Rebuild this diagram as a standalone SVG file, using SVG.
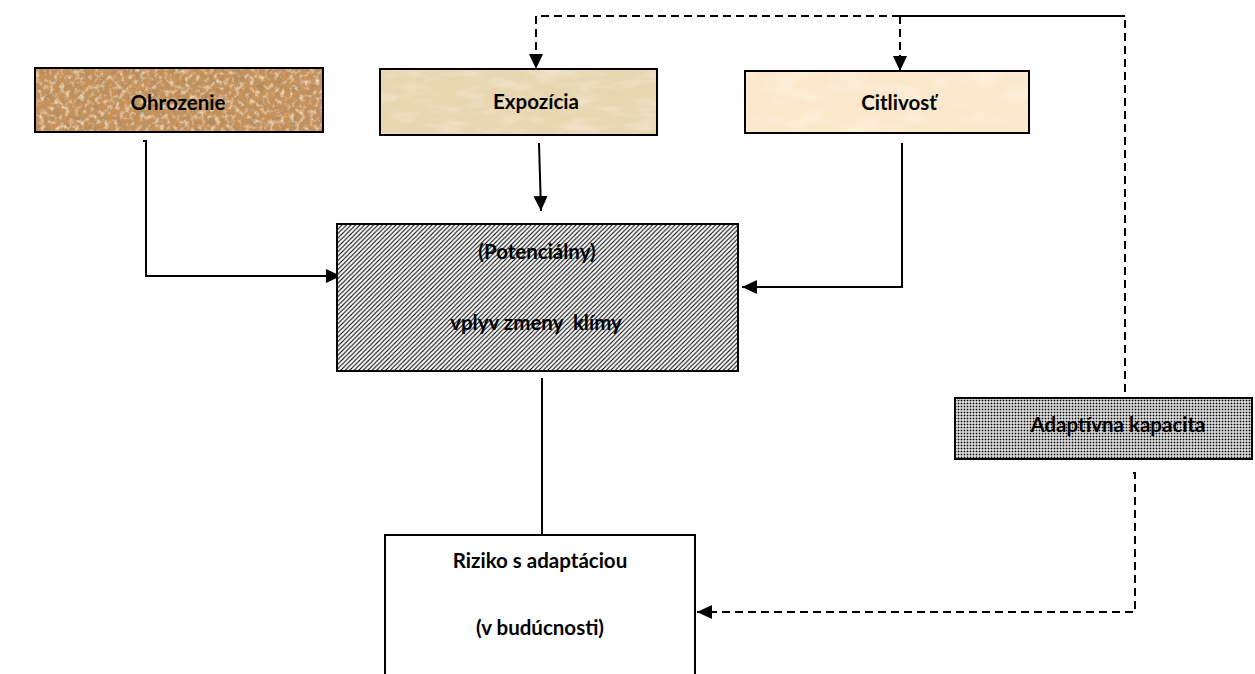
<svg xmlns="http://www.w3.org/2000/svg" width="1255" height="674" viewBox="0 0 1255 674">
  <style>
    .box { stroke: #000; stroke-width: 2; }
    .lbl { font-family: Lato, "Liberation Sans", sans-serif; font-weight: bold; font-size: 20.5px; fill: #000; text-anchor: middle; dominant-baseline: central; white-space: pre; }
    .wire { fill: none; stroke: #000; stroke-width: 2; }
    .dash { stroke-dasharray: 8 5; }
  </style>
  <defs>
    <marker id="arrow" markerUnits="userSpaceOnUse" markerWidth="16" markerHeight="16" viewBox="0 0 16 16" refX="15" refY="8" orient="auto">
      <path d="M0,1 L15,8 L0,15 Z" fill="#000"/>
    </marker>
    <!-- wide upward diagonal hatch -->
    <pattern id="hatch" patternUnits="userSpaceOnUse" width="4.5" height="4.5">
      <rect width="4.5" height="4.5" fill="#fff"/>
      <path d="M-1,1 L1,-1 M0,4.5 L4.5,0 M3.5,5.5 L5.5,3.5" stroke="#000" stroke-width="1.1"/>
    </pattern>
    <!-- dotted grid -->
    <pattern id="dots" patternUnits="userSpaceOnUse" width="3" height="3">
      <rect width="3" height="3" fill="#fff"/>
      <rect x="0.6" y="0.6" width="1.8" height="1.8" fill="#000"/>
    </pattern>
    <!-- sand grain texture -->
    <filter id="sand" x="0" y="0" width="100%" height="100%">
      <feTurbulence type="fractalNoise" baseFrequency="0.12" numOctaves="4" seed="4" result="n"/>
      <feColorMatrix in="n" type="matrix" values="0 0 0 0 0.45  0 0 0 0 0.26  0 0 0 0 0.1  2.6 0 0 0 -1.1" result="dark"/>
      <feTurbulence type="fractalNoise" baseFrequency="0.2" numOctaves="3" seed="9" result="n2"/>
      <feColorMatrix in="n2" type="matrix" values="0 0 0 0 0.9  0 0 0 0 0.77  0 0 0 0 0.6  2.4 0 0 0 -1.15" result="light"/>
      <feMerge><feMergeNode in="dark"/><feMergeNode in="light"/></feMerge>
    </filter>
    <!-- parchment texture -->
    <filter id="parch" x="0" y="0" width="100%" height="100%">
      <feTurbulence type="fractalNoise" baseFrequency="0.03 0.09" numOctaves="3" seed="2" result="n"/>
      <feColorMatrix in="n" type="matrix" values="0 0 0 0 0.97  0 0 0 0 0.93  0 0 0 0 0.84  1.0 0 0 0 -0.45"/>
    </filter>
    <filter id="cream" x="0" y="0" width="100%" height="100%">
      <feTurbulence type="fractalNoise" baseFrequency="0.03 0.06" numOctaves="2" seed="7" result="n"/>
      <feColorMatrix in="n" type="matrix" values="0 0 0 0 1  0 0 0 0 0.97  0 0 0 0 0.92  1.0 0 0 0 -0.45"/>
    </filter>
  </defs>

  <g id="connectors">
    <!-- top feedback line from adaptive capacity -->
    <path class="wire" d="M900,16 L1125,16"/>
    <path class="wire dash" d="M1125,392 L1125,16"/>
    <path class="wire dash" d="M900,16 L536,16 L536,69" marker-end="url(#arrow)"/>
    <path class="wire dash" d="M900,16 L900,71" marker-end="url(#arrow)"/>
    <!-- inputs to potential impact -->
    <path class="wire" d="M143,141 L146,141 L146,276 L341,276" marker-end="url(#arrow)"/>
    <path class="wire" d="M539,143 L541,211" marker-end="url(#arrow)"/>
    <path class="wire" d="M902,143 L902,287 L742,287" marker-end="url(#arrow)"/>
    <!-- impact to risk -->
    <path class="wire" d="M542,378 L542,537"/>
    <!-- adaptive capacity to risk -->
    <path class="wire dash" d="M1133,473 L1135,473 L1135,612 L697,612" marker-end="url(#arrow)"/>
  </g>

  <g id="ohrozenie">
    <rect x="35" y="68" width="288" height="64" fill="#c6925c"/>
    <rect x="35" y="68" width="288" height="64" fill="#000" filter="url(#sand)"/>
    <rect class="box" x="35" y="68" width="288" height="64" fill="none"/>
    <text class="lbl" x="178" y="102">Ohrozenie</text>
  </g>

  <g id="expozicia">
    <rect x="380" y="69" width="277" height="66" fill="#e8d6b0"/>
    <rect x="380" y="69" width="277" height="66" fill="#000" filter="url(#parch)"/>
    <rect class="box" x="380" y="69" width="277" height="66" fill="none"/>
    <text class="lbl" x="536" y="101">Expozícia</text>
  </g>

  <g id="citlivost">
    <rect x="745" y="71" width="284" height="62" fill="#fbe8cb"/>
    <rect x="745" y="71" width="284" height="62" fill="#000" filter="url(#cream)"/>
    <rect class="box" x="745" y="71" width="284" height="62" fill="none"/>
    <text class="lbl" x="899" y="102">Citlivosť</text>
  </g>

  <g id="vplyv">
    <rect class="box" x="337" y="224" width="401" height="147" fill="url(#hatch)"/>
    <text class="lbl" x="537" y="251">(Potenciálny)</text>
    <text class="lbl" x="536" y="322">vplyv zmeny  klímy</text>
  </g>

  <g id="adaptivna-kapacita">
    <rect class="box" x="955" y="398" width="297" height="61" fill="url(#dots)"/>
    <text class="lbl" x="1118" y="424">Adaptívna kapacita</text>
  </g>

  <g id="riziko">
    <rect class="box" x="385" y="535" width="310" height="150" fill="#fff"/>
    <text class="lbl" x="540" y="560">Riziko s adaptáciou</text>
    <text class="lbl" x="540" y="627">(v budúcnosti)</text>
  </g>
</svg>
